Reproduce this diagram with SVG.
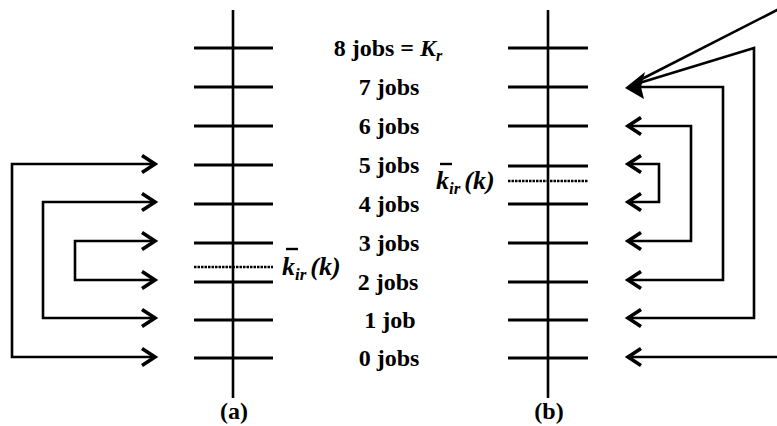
<svg xmlns="http://www.w3.org/2000/svg" width="777" height="426" viewBox="0 0 777 426">
<style>
.ax{stroke:#000;stroke-width:2.6;fill:none}
.tk{stroke:#000;stroke-width:2.8;fill:none}
.dt{stroke:#000;stroke-width:2.6;fill:none;stroke-dasharray:2.5 1}
.cn{stroke:#000;stroke-width:2.6;fill:none;stroke-linejoin:miter}
.lb{font-family:"Liberation Serif","Times New Roman",serif;font-weight:bold;font-size:24px;fill:#000}
.kb{font-family:"Liberation Serif","Times New Roman",serif;font-weight:bold;font-style:italic;font-size:26px;fill:#000}
.it{font-style:italic}
.pl{font-family:"Liberation Serif","Times New Roman",serif;font-weight:bold;font-size:24px;fill:#000}
</style>
<defs>
<marker id="ah" markerUnits="userSpaceOnUse" viewBox="-16 -11 20 22" markerWidth="20" markerHeight="22" refX="0" refY="0" orient="auto-start-reverse">
<path d="M-13,-8.5 L0,0 L-13,8.5" fill="none" stroke="#000" stroke-width="3.6" stroke-linejoin="miter"/>
</marker>
</defs>

<g id="axis-a">
<line class="ax" x1="233" y1="10" x2="233" y2="398"/>
<line class="tk" x1="194" y1="48" x2="273" y2="48"/>
<line class="tk" x1="194" y1="87" x2="273" y2="87"/>
<line class="tk" x1="194" y1="126" x2="273" y2="126"/>
<line class="tk" x1="194" y1="165" x2="273" y2="165"/>
<line class="tk" x1="194" y1="204" x2="273" y2="204"/>
<line class="tk" x1="194" y1="243" x2="273" y2="243"/>
<line class="dt" x1="194" y1="267" x2="273" y2="267"/>
<line class="tk" x1="194" y1="282" x2="273" y2="282"/>
<line class="tk" x1="194" y1="320" x2="273" y2="320"/>
<line class="tk" x1="194" y1="358" x2="273" y2="358"/>
<text class="pl" x="234" y="419" text-anchor="middle">(a)</text>
</g>

<g id="axis-b">
<line class="ax" x1="548" y1="10" x2="548" y2="398"/>
<line class="tk" x1="508" y1="48" x2="588" y2="48"/>
<line class="tk" x1="508" y1="87" x2="588" y2="87"/>
<line class="tk" x1="508" y1="126" x2="588" y2="126"/>
<line class="tk" x1="508" y1="166" x2="588" y2="166"/>
<line class="dt" x1="508" y1="181" x2="588" y2="181"/>
<line class="tk" x1="508" y1="204" x2="588" y2="204"/>
<line class="tk" x1="508" y1="243" x2="588" y2="243"/>
<line class="tk" x1="508" y1="282" x2="588" y2="282"/>
<line class="tk" x1="508" y1="320" x2="588" y2="320"/>
<line class="tk" x1="508" y1="358" x2="588" y2="358"/>
<text class="pl" x="549" y="419" text-anchor="middle">(b)</text>
</g>

<g id="levels">
<text class="lb" x="388" y="56" text-anchor="middle">8 jobs = <tspan class="it">K</tspan><tspan class="it" font-size="16" dy="5">r</tspan></text>
<text class="lb" x="389" y="95" text-anchor="middle">7 jobs</text>
<text class="lb" x="389" y="134" text-anchor="middle">6 jobs</text>
<text class="lb" x="389" y="173" text-anchor="middle">5 jobs</text>
<text class="lb" x="389" y="212" text-anchor="middle">4 jobs</text>
<text class="lb" x="389" y="251" text-anchor="middle">3 jobs</text>
<text class="lb" x="388" y="290" text-anchor="middle">2 jobs</text>
<text class="lb" x="390" y="328" text-anchor="middle">1 job</text>
<text class="lb" x="389" y="366" text-anchor="middle">0 jobs</text>
</g>

<g id="kbar-a">
<line x1="286" y1="249" x2="298" y2="249" stroke="#000" stroke-width="2.4"/>
<text class="kb" x="282" y="275">k<tspan font-size="17" dy="5">ir</tspan><tspan dy="-5" dx="4">(k)</tspan></text>
</g>

<g id="kbar-b">
<line x1="440" y1="164" x2="452" y2="164" stroke="#000" stroke-width="2.4"/>
<text class="kb" x="436" y="189">k<tspan font-size="17" dy="5">ir</tspan><tspan dy="-5" dx="4">(k)</tspan></text>
</g>

<g id="connectors">
<path class="cn" d="M155,164 H12 V357 H155" marker-start="url(#ah)" marker-end="url(#ah)"/>
<path class="cn" d="M155,202 H43 V318 H155" marker-start="url(#ah)" marker-end="url(#ah)"/>
<path class="cn" d="M155,241 H75 V280 H155" marker-start="url(#ah)" marker-end="url(#ah)"/>
<path class="cn" d="M628,164 H659 V202 H628" marker-start="url(#ah)" marker-end="url(#ah)"/>
<path class="cn" d="M628,126 H691 V241 H628" marker-start="url(#ah)" marker-end="url(#ah)"/>
<path class="cn" d="M636,87 H723 V280 H628" marker-end="url(#ah)"/>
<path class="cn" d="M636,84 L754,48 V318 H628" marker-end="url(#ah)"/>
<path class="cn" d="M636,82 L779,9"/>
<path class="cn" d="M779,357 H628" marker-end="url(#ah)"/>
<polygon points="625,88 645,72 641,87 644,99" fill="#000"/>
</g>
</svg>
